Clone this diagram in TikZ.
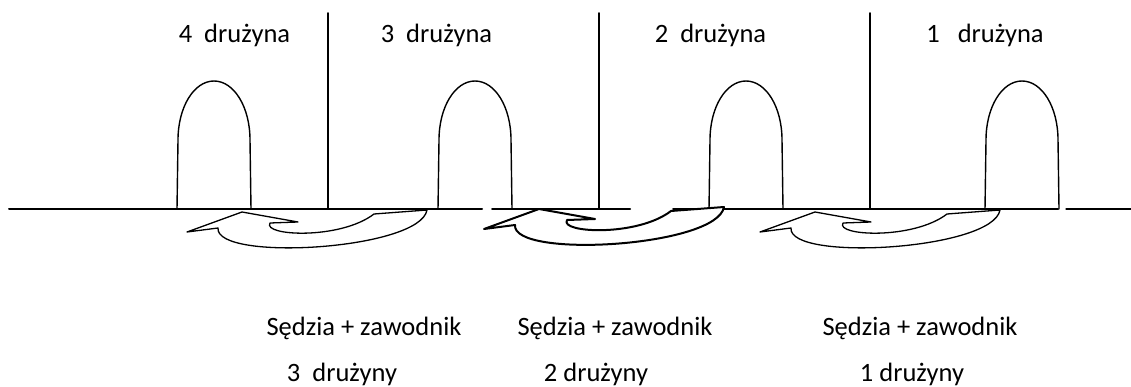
\documentclass[tikz,border=0pt]{standalone}
\usepackage{fontspec}
\setmainfont{Carlito}
\begin{document}
\begin{tikzpicture}[x=1pt, y=-1pt, line join=round, line cap=round, font=\fontsize{26.5}{31}\selectfont]
                \def\yb{209} % linia podlogi
                \useasboundingbox (0,0) rectangle (1131,387);
                \draw[line width=2pt] (9,\yb)--(482,\yb) (492,\yb)--(630,\yb) (673,\yb)--(1058,\yb);
                \draw[line width=1.2pt] (1066,\yb)--(1131,\yb);
                \foreach \w in {328,599,870} \draw[line width=1.8pt] (\w,13)--(\w,\yb);
                \foreach \c in {214,475,746,1022}
                    \draw[line width=1.4pt] ({\c-37},\yb) -- ({\c-36},140) .. controls ({\c-36},107) and ({\c-20},81) .. (\c,81)
                        .. controls ({\c+20},81) and ({\c+36},107) .. ({\c+36},140) -- ({\c+37},\yb);
                \foreach \dx/\dy/\lw in {0/0/1.3, 297/-3/2, 573/0/1.3}
                    \draw[fill=white, line width=\lw pt, shift={(\dx,\dy)}] (187,232) -- (242,212) -- (298,222) -- (270,223)
                        .. controls (262,236) and (340,240) .. (374,214) -- (427,210)
                        .. controls (420,250) and (215,262) .. (218,228) -- cycle;
                \node[anchor=base] (t4) at (234.5,43) {4~ drużyna};
                \node[anchor=base] (t3) at (436.5,43) {3~ drużyna};
                \node[anchor=base] (t2) at (710.5,43) {2~ drużyna};
                \node[anchor=base] (t1) at (985,43) {1~~ drużyna};
                \node[anchor=base] (s3) at (364,335) {Sędzia + zawodnik};
                \node[anchor=base] (s2) at (615,335) {Sędzia + zawodnik};
                \node[anchor=base] (s1) at (920,335) {Sędzia + zawodnik};
                \node[anchor=base] (d3) at (342,381) {3~ drużyny};
                \node[anchor=base] (d2) at (596,381) {2 drużyny};
                \node[anchor=base] (d1) at (912,381) {1 drużyny};
            \end{tikzpicture}
\end{document}
